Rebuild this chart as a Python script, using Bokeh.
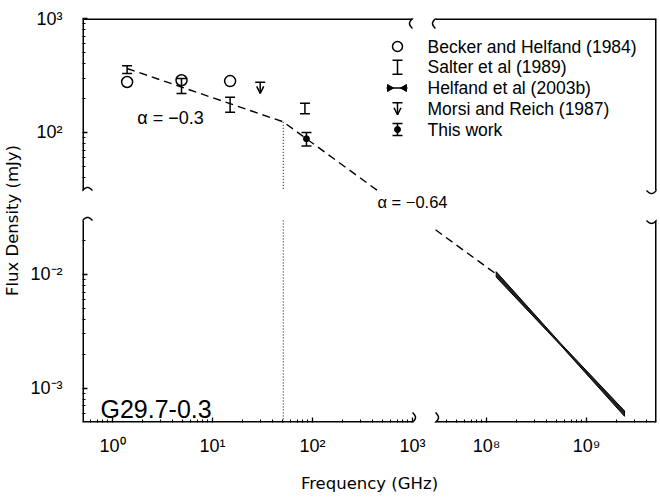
import numpy as np
from bokeh.plotting import figure
from bokeh.models import (Range1d, FixedTicker, Whisker, TeeHead, OpenHead,
                          ColumnDataSource)
from bokeh.core.properties import value
from bokeh.embed import file_html
from bokeh.resources import INLINE

# ---------------- data ----------------
becker_freq = [1.4, 4.9, 15.0]          # GHz
becker_flux = [277.0, 287.0, 282.0]     # mJy

salter_freq = [1.4, 4.9, 15.0, 84.0]
salter_flux = [357.0, 259.0, 177.0, 163.0]
salter_err = [28.0, 39.0, 27.0, 17.0]

morsi_freq = [30.0]
morsi_limit = [275.0]
morsi_arrow_to = [220.0]

this_freq = [87.0]
this_flux = [88.0]
this_err = [12.0]

helfand_freq = [1.25e8, 5.5e8, 2.4e9]
helfand_flux = [0.0100, 2.44e-3, 6.0e-4]
helfand_dex = [0.024, 0.009, 0.024]

fit_start_freq = 1.4
fit_start_flux = 364.0
fit_break_freq = 51.0
fit_end_freq = 1.25e8
fit_alpha = [-0.3, -0.64]

x_tick_values = [1.0, 10.0, 100.0, 1e3, 1e8, 1e9]
x_tick_labels = ["10\u2070", "10\u00b9", "10\u00b2", "10\u00b3", "10\u2078", "10\u2079"]
y_tick_values = [1e3, 1e2, 1e-2, 1e-3]
y_tick_labels = ["10\u00b3", "10\u00b2", "10\u207b\u00b2", "10\u207b\u00b3"]

legend_labels = ["Becker and Helfand (1984)", "Salter et al (1989)",
                 "Helfand et al (2003b)", "Morsi and Reich (1987)", "This work"]
alpha_labels = ["\u03b1 = \u22120.3", "\u03b1 = \u22120.64"]
source_label = "G29.7-0.3"

# ---------------- broken log axes ----------------
XL = (-0.30, 3.00)     # left piece, log10(GHz)
XR = (7.49, 9.70)      # right piece
XGAP = 0.23
YU = (1.49, 3.00)      # upper piece, log10(mJy)
YL = (-3.30, -1.526)   # lower piece
YGAP = 0.263


def tx(f):
    lf = np.log10(np.asarray(f, dtype=float))
    return np.where(lf <= XL[1] + 1e-9, lf, lf - XR[0] + XL[1] + XGAP)


def ty(F):
    lF = np.log10(np.asarray(F, dtype=float))
    return np.where(lF >= YU[0] - 1e-9, lF, lF - YL[1] + YU[0] - YGAP)


X0, X1 = XL[0], float(tx(10 ** XR[1]))
Y0, Y1 = float(ty(10 ** YL[0])), YU[1]
XLB, XRB = XL[1], float(tx(10 ** XR[0]))        # x break edges
YUB, YLB = YU[0], float(ty(10 ** YL[1]))        # y break edges

FW, FH = 574, 404
FL, FT = 82, 18                                 # frame origin on page (layout reference)
ux = (X1 - X0) / FW
vy = (Y1 - Y0) / FH


def U(px):
    return X0 + (px - FL) * ux


def V(py):
    return Y1 - (py - FT) * vy


p = figure(frame_width=FW, frame_height=FH, x_range=Range1d(X0, X1), y_range=Range1d(Y0, Y1),
           output_backend="svg", toolbar_location=None,
           min_border_left=FL, min_border_right=2, min_border_top=FT, min_border_bottom=70)
p.outline_line_color = None
p.grid.visible = False
p.background_fill_color = "white"
p.border_fill_color = "white"


def minors(decades, mults, lo, hi):
    out = []
    for d in decades:
        for m in mults:
            v = m * 10.0 ** d
            if lo < np.log10(v) < hi:
                out.append(v)
    return out


x_minor = minors(range(-1, 3), range(2, 10), XL[0], XL[1]) + \
    minors(range(7, 10), range(2, 10), XR[0], XR[1] - 0.01)
y_minor = minors(range(1, 3), range(2, 10), YU[0], YU[1]) + \
    minors(range(-4, -1), range(2, 10), YL[0], YL[1])

xt = [float(v) for v in tx(x_tick_values)]
yt = [float(v) for v in ty(y_tick_values)]
p.xaxis.ticker = FixedTicker(ticks=xt, minor_ticks=[float(v) for v in tx(x_minor)])
p.yaxis.ticker = FixedTicker(ticks=yt, minor_ticks=[float(v) for v in ty(y_minor)])
p.xaxis.major_label_overrides = {t: s for t, s in zip(xt, x_tick_labels)}
p.yaxis.major_label_overrides = {t: s for t, s in zip(yt, y_tick_labels)}

for ax in (p.xaxis, p.yaxis):
    ax.axis_line_color = None
    ax.major_tick_in = 5
    ax.major_tick_out = 0
    ax.minor_tick_in = 3
    ax.minor_tick_out = 0
    ax.major_tick_line_width = 1.3
    ax.minor_tick_line_width = 1.1
    ax.major_tick_line_color = "black"
    ax.minor_tick_line_color = "black"
    ax.major_label_text_font = "Liberation Sans"
    ax.major_label_text_font_size = "18px"
    ax.major_label_text_color = "black"
    ax.axis_label_text_font = "DejaVu Sans"
    ax.axis_label_text_font_size = "16.5px"
    ax.axis_label_text_font_style = "normal"
    ax.axis_label_text_color = "black"

p.xaxis.axis_label = "Frequency (GHz)"
p.yaxis.axis_label = "Flux Density (mJy)"
p.xaxis.major_label_standoff = 13
p.xaxis.axis_label_standoff = 15
p.yaxis.major_label_standoff = 20
p.yaxis.axis_label_standoff = 5

# ---------------- frame with breaks ----------------
fx = [[X0, XLB], [XRB, X1], [X0, XLB], [XRB, X1], [X0, X0], [X0, X0], [X1, X1], [X1, X1]]
fy = [[Y1, Y1], [Y1, Y1], [Y0, Y0], [Y0, Y0], [Y1, YUB], [YLB, Y0], [Y1, YUB], [YLB, Y0]]
p.multi_line(fx, fy, line_color="black", line_width=3)

t = np.linspace(-1, 1, 25)
sq_x, sq_y = [], []
for xb in (XLB, XRB):            # vertical squiggles on top and bottom spines
    for yb in (Y0, Y1):
        sq_x.append(list(xb + 3 * ux * np.sin(np.pi * t)))
        sq_y.append(list(yb + 10 * vy * t))
for yb in (YUB, YLB):            # horizontal squiggles on left and right spines
    for xb in (X0, X1):
        sq_x.append(list(xb + 10 * ux * t))
        sq_y.append(list(yb + 3 * vy * np.sin(np.pi * t)))
p.multi_line(sq_x, sq_y, line_color="black", line_width=1.5)

# ---------------- fitted broken power law ----------------
fb_flux = fit_start_flux * (fit_break_freq / fit_start_freq) ** fit_alpha[0]
f_exit = fit_break_freq * (10 ** YU[0] / fb_flux) ** (1.0 / fit_alpha[1])
f_enter = 10 ** XR[0]
F_enter = fb_flux * (f_enter / fit_break_freq) ** fit_alpha[1]
F_end = fb_flux * (fit_end_freq / fit_break_freq) ** fit_alpha[1]
p.line(tx([fit_start_freq, fit_break_freq, f_exit]), ty([fit_start_flux, fb_flux, 10 ** YU[0]]),
       line_color="black", line_width=1.4, line_dash="8 5")
p.line(tx([f_enter, fit_end_freq]), ty([F_enter, F_end]),
       line_color="black", line_width=1.4, line_dash="8 5")

# dotted vertical at the break
p.multi_line([list(tx([fit_break_freq] * 2)), list(tx([fit_break_freq] * 2))],
             [list(ty([fb_flux, 10 ** YU[0]])), list(ty([10 ** YL[1], 10 ** YL[0]]))],
             line_color="black", line_width=1, line_dash="1 2")

# ---------------- Helfand band ----------------
hf = np.array(helfand_freq)
hF = np.array(helfand_flux)
hd = np.array(helfand_dex)
band_x = list(tx(hf)) + list(tx(hf[::-1]))
band_y = list(ty(hF * 10 ** hd)) + list(ty((hF / 10 ** hd)[::-1]))
p.patch(band_x, band_y, fill_color="#222222", line_color="black", line_width=1)

# ---------------- error bars ----------------
def whisk(xs, up, lo, upper_head, lower_head):
    src = ColumnDataSource(dict(base=list(xs), upper=list(up), lower=list(lo)))
    w = Whisker(source=src, base="base", upper="upper", lower="lower", dimension="height",
                line_color="black", line_width=1.5, upper_head=upper_head, lower_head=lower_head,
                level="glyph")
    p.add_layout(w)


def tee():
    return TeeHead(size=10, line_width=1.5, line_color="black")


def vee():
    return OpenHead(size=7, line_width=1.5, line_color="black")


sf, sF, se = np.array(salter_freq), np.array(salter_flux), np.array(salter_err)
whisk(tx(sf), ty(sF + se), ty(sF - se), tee(), tee())
tf, tF, te = np.array(this_freq), np.array(this_flux), np.array(this_err)
whisk(tx(tf), ty(tF + te), ty(tF - te), tee(), tee())
p.scatter(tx(tf), ty(tF), marker="circle", size=6, fill_color="black", line_color="black")
whisk(tx(morsi_freq), ty(morsi_limit), ty(morsi_arrow_to), tee(), vee())

p.scatter(tx(becker_freq), ty(becker_flux), marker="circle", size=11,
          fill_color=None, line_color="black", line_width=1.5)

# ---------------- legend (drawn in the frame) ----------------
rows = [46 + 20.75 * i for i in range(5)]
sym_x = 397
p.scatter([U(sym_x)], [V(rows[0])], marker="circle", size=10, fill_color=None,
          line_color="black", line_width=1.5)
whisk([U(sym_x)], [V(rows[1] - 7)], [V(rows[1] + 7)], tee(), tee())
p.line([U(386), U(407)], [V(rows[2])] * 2, line_color="black", line_width=1.5)
p.scatter([U(389), U(404)], [V(rows[2])] * 2, marker="triangle", size=7,
          angle=[-np.pi / 2, np.pi / 2], fill_color="black", line_color="black")
whisk([U(sym_x)], [V(rows[3] - 6)], [V(rows[3] + 6)], tee(), vee())
whisk([U(sym_x)], [V(rows[4] - 6)], [V(rows[4] + 6)], tee(), tee())
p.scatter([U(sym_x)], [V(rows[4])], marker="circle", size=6, fill_color="black", line_color="black")
p.text([U(427)] * 5, [V(r) for r in rows], text=legend_labels,
       text_font=value("Liberation Sans"), text_font_size="17.5px", text_color="black",
       text_align="left", text_baseline="middle")

# ---------------- annotations ----------------
p.text([U(170)], [V(117)], text=[alpha_labels[0]], text_font=value("Liberation Sans"),
       text_font_size="18px", text_align="center", text_baseline="middle", text_color="black")
p.text([U(412)], [V(201)], text=[alpha_labels[1]], text_font=value("Liberation Sans"),
       text_font_size="16.5px", text_align="center", text_baseline="middle", text_color="black")
p.text([U(100)], [V(408)], text=[source_label], text_font=value("Liberation Sans"),
       text_font_size="25px", text_align="left", text_baseline="alphabetic", text_color="black")

open("out.html", "w").write(file_html(p, INLINE))
